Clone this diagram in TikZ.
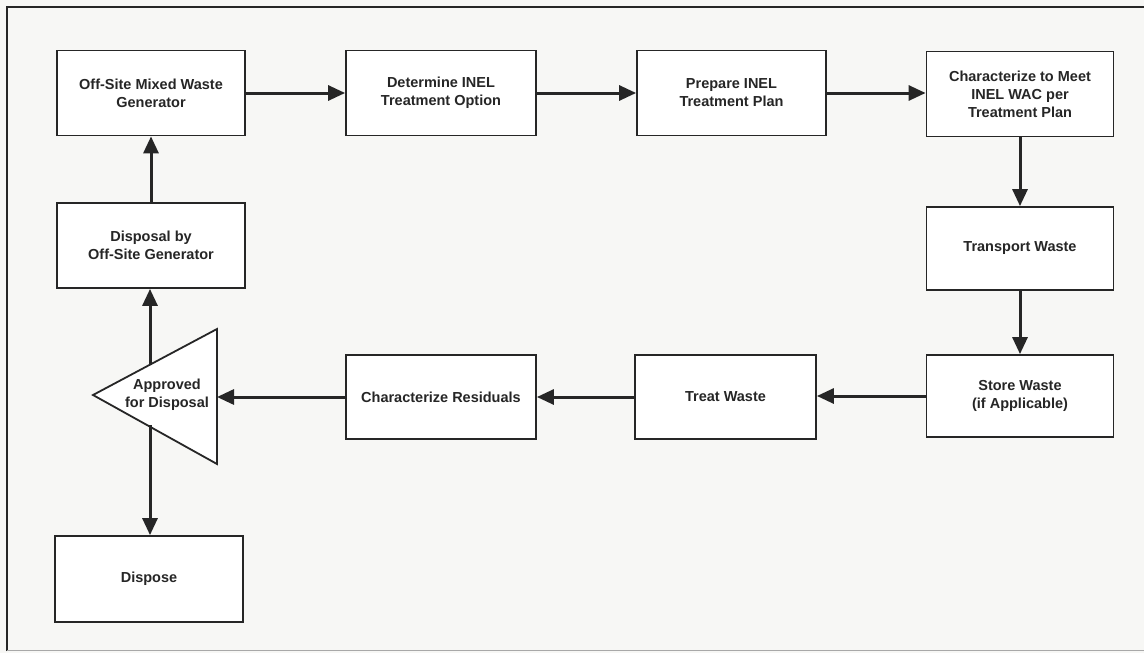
\documentclass[tikz,border=0pt]{standalone}
\usepackage{fontspec}
\setmainfont{Liberation Sans}
\usetikzlibrary{arrows.meta}
\definecolor{ink}{HTML}{262626}
\definecolor{paper}{HTML}{F7F7F5}
\tikzset{
  lbl/.style={text=ink, font=\fontsize{14.5}{18}\selectfont\bfseries, align=center},
  box/.style={lbl, draw=ink, line width=1.8pt, fill=white, minimum width=188pt, minimum height=85pt, inner sep=2pt},
  flow/.style={draw=ink, line width=3pt, -{Triangle[length=17pt,width=15pt]}}
}
\begin{document}
\begin{tikzpicture}[x=1pt,y=-1pt]
\useasboundingbox (0,0) rectangle (1144,653);
\fill[paper] (0,0) rectangle (1144,653);
\draw[ink, line width=1.8pt] (7,651) -- (7,7) -- (1144,7);
\draw[ink!40, line width=1pt] (7,650) -- (1144,650);

\node[box] (gen) at (151,93) {Off-Site Mixed Waste\\Generator};
\node[box, minimum width=190pt] (det) at (441,93) {Determine INEL\\Treatment Option};
\node[box, minimum width=189pt] (prep) at (731.5,93) {Prepare INEL\\Treatment Plan};
\node[box, minimum width=187pt] (char) at (1020,94) {Characterize to Meet\\INEL WAC per\\Treatment Plan};
\node[box, minimum width=187pt, minimum height=83pt] (trans) at (1020,248.5) {Transport Waste};
\node[box, minimum width=187pt, minimum height=82pt] (store) at (1020,396) {Store Waste\\(if Applicable)};
\node[box, minimum width=181pt, minimum height=84pt] (treat) at (725.5,397) {Treat Waste};
\node[box, minimum width=190pt, minimum height=84pt] (res) at (441,397) {Characterize Residuals};
\node[box] (disp) at (151,245.5) {Disposal by\\Off-Site Generator};
\node[box, minimum height=86pt] (dispose) at (149,579) {Dispose};

% triangle
\draw[ink, line width=1.8pt, fill=white] (93,395) -- (217,329) -- (217,464) -- cycle;
\node[lbl] (appr) at (167,395) {Approved\\for Disposal};
\coordinate (triR) at (217,395);
\coordinate (triT) at (150,365);
\coordinate (triB) at (150,425);

\draw[flow] (gen.east) -- (det.west);
\draw[flow] (det.east) -- (prep.west);
\draw[flow] (prep.east) -- (prep.east -| char.west);
\draw[flow] (char.south) -- (trans.north);
\draw[flow] (trans.south) -- (store.north);
\draw[flow] (store.west) -- (store.west -| treat.east);
\draw[flow] (treat.west) -- (treat.west -| res.east);
\draw[flow] (res.west) -- (res.west -| triR);
\draw[flow] (triT) -- (triT |- disp.south);
\draw[flow] (disp.north) -- (disp.north |- gen.south);
\draw[flow] (triB) -- (triB |- dispose.north);
\end{tikzpicture}
\end{document}
